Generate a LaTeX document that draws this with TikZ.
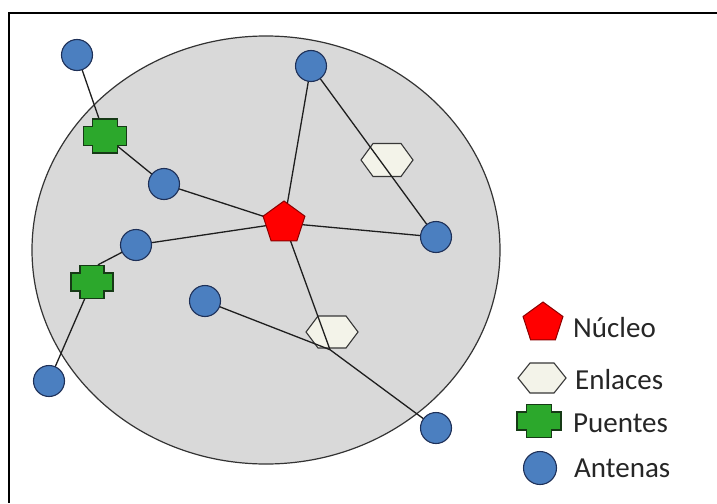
\documentclass[tikz,border=0pt]{standalone}
\usepackage{fontspec}
\setmainfont{Carlito}
\usetikzlibrary{shapes.geometric,calc}
\definecolor{antF}{RGB}{75,127,192}
\definecolor{antB}{RGB}{30,48,88}
\definecolor{brF}{RGB}{44,168,44}
\definecolor{brB}{RGB}{22,58,22}
\definecolor{nucF}{RGB}{255,0,0}
\definecolor{nucB}{RGB}{140,0,0}
\definecolor{hexF}{RGB}{243,243,233}
\definecolor{hexB}{RGB}{55,55,55}
\definecolor{zoneF}{RGB}{217,217,217}
\definecolor{lineC}{RGB}{30,30,30}
\pgfdeclarelayer{bg}
\pgfdeclarelayer{mid}
\pgfsetlayers{bg,mid,main}
\tikzset{
  ant/.style={circle, draw=antB, fill=antF, line width=1.1pt, minimum size=#1, inner sep=0pt},
  ant/.default=31pt,
  nuc/.style={regular polygon, regular polygon sides=5, draw=nucB, fill=nucF, line width=1pt, minimum size=#1, inner sep=0pt},
  nuc/.default=44pt,
  hexa/.style n args={3}{minimum width={2*#1pt+3pt}, minimum height={2*#2pt+3pt}, inner sep=0pt,
    path picture={
      \coordinate (hc) at (path picture bounding box.center);
      \filldraw[draw=hexB, fill=hexF, line width=1.1pt, line join=miter]
        ($(hc)+(-#1,0)$) -- ($(hc)+(-#3,#2)$) -- ($(hc)+(#3,#2)$) -- ($(hc)+(#1,0)$)
        -- ($(hc)+(#3,-#2)$) -- ($(hc)+(-#3,-#2)$) -- cycle;}},
  bridge/.style n args={4}{minimum width={2*#1pt+3pt}, minimum height={2*#2pt+3pt}, inner sep=0pt,
    path picture={
      \coordinate (bc) at (path picture bounding box.center);
      \filldraw[draw=brB, fill=brF, line width=1.1pt, line join=miter]
        ($(bc)+(-#3,#2)$) -- ($(bc)+(#3,#2)$) -- ($(bc)+(#3,#4)$) -- ($(bc)+(#1,#4)$)
        -- ($(bc)+(#1,-#4)$) -- ($(bc)+(#3,-#4)$) -- ($(bc)+(#3,-#2)$) -- ($(bc)+(-#3,-#2)$)
        -- ($(bc)+(-#3,-#4)$) -- ($(bc)+(-#1,-#4)$) -- ($(bc)+(-#1,#4)$) -- ($(bc)+(-#3,#4)$) -- cycle;}},
  link/.style={draw=lineC, line width=1.3pt},
  legtext/.style={anchor=base west, inner sep=0pt, font=\fontsize{29}{34}\selectfont, text=black!85}
}
\begin{document}
\begin{tikzpicture}[x=1pt,y=-1pt]
\useasboundingbox (0,0) rectangle (717,503);

\begin{pgfonlayer}{bg}
  \fill[white] (0,0) rectangle (717,503);
  \draw[fill=zoneF, draw=black!80, line width=1.2pt] (266,250) ellipse [x radius=234, y radius=214];
  \node[hexa={26}{16.5}{14}] (H1) at (387,160) {};
  \node[hexa={26}{16}{14}] (H2) at (332,332) {};
\end{pgfonlayer}

% frame (top and left edges only)
\draw[line width=1.6pt, black] (717,13) -- (9,13) -- (9,503);

% nodes
\node[nuc] (N) at (284,223) {};
\node[ant] (A1) at (77,55) {};
\node[ant] (A2) at (311,66) {};
\node[ant] (A3) at (164,184) {};
\node[ant] (A4) at (136,245) {};
\node[ant] (A5) at (436,237) {};
\node[ant] (A6) at (205,301) {};
\node[ant] (A7) at (49,381) {};
\node[ant] (A8) at (436,428) {};
\node[bridge={21.5}{17}{12.5}{9.5}] (P1) at (105,136) {};
\node[bridge={21}{16.5}{12}{9}] (P2) at (92,282) {};

\begin{pgfonlayer}{mid}
  \draw[link] (A1.center) -- (P1.center);
  \draw[link] (P1.center) -- (A3.center);
  \draw[link] (A3.center) -- (N.center);
  \draw[link] (A4.center) -- (N.center);
  \draw[link] (A4.center) -- ($(P2.north)+(6,1)$);
  \draw[link] (P2.center) -- (A7.center);
  \draw[link] (N.center) -- (A2.center);
  \draw[link] (N.center) -- (A5.center);
  \draw[link] (A2.center) -- (A5.center);
  \draw[link] (N.center) -- ($(H2.south)+(-2,0)$);
  \draw[link] (A6.center) -- ($(H2.south)+(-2,0)$) -- (A8.center);
\end{pgfonlayer}

% legend
\node[nuc=42pt] (NL) at (543,323) {};
\node[hexa={24}{15}{12}] (HL) at (542,378) {};
\node[bridge={22}{16.5}{12.5}{9}] (PL) at (539,421) {};
\node[ant=33pt] (AL) at (540,468) {};
\node[legtext] (tN) at (573,337) {Núcleo};
\node[legtext] (tH) at (575,389) {Enlaces};
\node[legtext] (tP) at (573,432) {Puentes};
\node[legtext] (tA) at (574,477) {Antenas};
\end{tikzpicture}
\end{document}
